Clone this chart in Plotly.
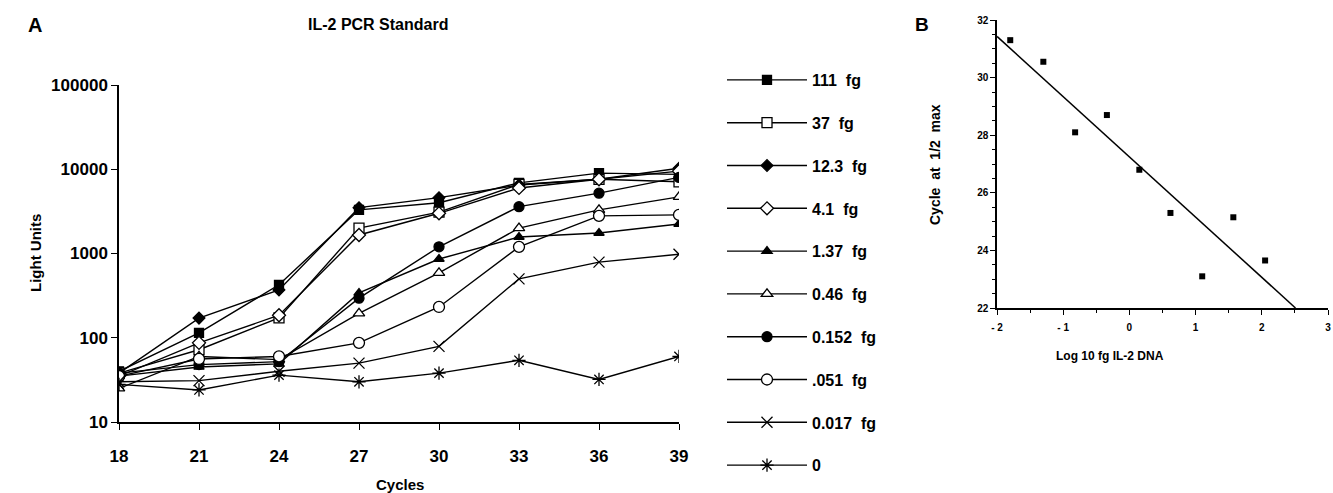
import plotly.graph_objects as go
import numpy as np

# ---------------- Data (panel A) ----------------
cycles = [18, 21, 24, 27, 30, 33, 36, 39]
series_names = ["111\u00a0\u00a0fg", "37\u00a0\u00a0fg", "12.3\u00a0\u00a0fg", "4.1\u00a0\u00a0fg", "1.37\u00a0\u00a0fg",
                "0.46\u00a0\u00a0fg", "0.152\u00a0\u00a0fg", ".051\u00a0\u00a0fg", "0.017\u00a0\u00a0fg", "0"]
fg_111 = [40, 114, 425, 3300, 4000, 6900, 9000, 8700]
fg_37 = [38, 72, 172, 2000, 3100, 6600, 7600, 7100]
fg_12_3 = [38, 171, 370, 3500, 4600, 6500, 7600, 10300]
fg_4_1 = [35, 87, 185, 1660, 3000, 6000, 7600, 9500]
fg_1_37 = [35, 45, 49, 340, 860, 1570, 1750, 2240]
fg_0_46 = [25, 60, 55, 195, 590, 2000, 3300, 4700]
fg_0_152 = [38, 48, 52, 295, 1200, 3600, 5200, 8000]
fg_0_051 = [35, 56, 60, 87, 232, 1200, 2800, 2870]
fg_0_017 = [30, 31, 40, 50, 79, 500, 790, 980]
fg_0 = [28, 24, 36, 30, 38, 54, 32, 60]
y_ticks = [10, 100, 1000, 10000, 100000]
y_ticktext = ["10", "100", "1000", "10000", "100000"]

# ---------------- Data (panel B) ----------------
log_fg = [-1.8, -1.3, -0.82, -0.34, 0.15, 0.62, 1.1, 1.57, 2.05]
cycle_half_max = [31.3, 30.55, 28.1, 28.7, 26.8, 25.3, 23.1, 25.15, 23.65]
b_xticks = [-2, -1, 0, 1, 2, 3]
b_xticktext = ["- 2", "- 1", "0", "1", "2", "3"]
b_yticks = [22, 24, 26, 28, 30, 32]

series_values = [fg_111, fg_37, fg_12_3, fg_4_1, fg_1_37, fg_0_46, fg_0_152, fg_0_051, fg_0_017, fg_0]
symbols = ["square", "square", "diamond", "diamond", "triangle-up", "triangle-up",
           "circle", "circle", "x-thin-open", "asterisk-open"]
fills = ["black", "white", "black", "white", "black", "white", "black", "white", "black", "black"]
sizes = [9, 10, 9, 10, 9, 10, 10, 11, 11, 11]

FONT = "Liberation Sans, Arial, Helvetica, sans-serif"

fig = go.Figure()

for i, (name, vals) in enumerate(zip(series_names, series_values)):
    fig.add_trace(go.Scatter(
        x=cycles, y=vals, name=name, mode="lines+markers",
        line=dict(color="black", width=1.4),
        marker=dict(symbol=symbols[i], size=sizes[i], color=fills[i],
                    line=dict(color="black", width=1.3)),
        legendgroup=f"g{i}", xaxis="x", yaxis="y",
    ))

# Panel B: points + least-squares line
coef = np.polyfit(log_fg, cycle_half_max, 1)
x_start = b_xticks[0]
x_end = (b_yticks[0] - coef[1]) / coef[0]
fig.add_trace(go.Scatter(
    x=[x_start, x_end], y=[np.polyval(coef, x_start), np.polyval(coef, x_end)],
    mode="lines", line=dict(color="black", width=1.5), showlegend=False,
    xaxis="x2", yaxis="y2", cliponaxis=False,
))
fig.add_trace(go.Scatter(
    x=log_fg, y=cycle_half_max, mode="markers",
    marker=dict(symbol="square", size=6, color="black"), showlegend=False,
    xaxis="x2", yaxis="y2",
))

W, H = 1333, 493
axis_common = dict(showgrid=False, zeroline=False, showline=True, linecolor="black",
                   linewidth=1.5, ticks="outside", tickcolor="black", automargin=False)

fig.update_layout(
    width=W, height=H,
    margin=dict(l=0, r=0, t=0, b=0, autoexpand=False),
    paper_bgcolor="white", plot_bgcolor="white",
    font=dict(family=FONT, color="black"),
    xaxis=dict(domain=[119 / W, 679 / W], range=[18, 39], tickvals=cycles,
               ticklen=6, tickwidth=1.2, ticklabelstandoff=12,
               tickfont=dict(size=17, weight="bold"), anchor="y", **axis_common),
    yaxis=dict(domain=[1 - 422 / H, 1 - 85 / H], type="log", range=[1, 5],
               tickvals=y_ticks, ticktext=y_ticktext, ticklen=6, tickwidth=1.2,
               tickfont=dict(size=17, weight="bold"), anchor="x", **axis_common),
    xaxis2=dict(domain=[997 / W, 1328 / W], range=[-2, 3], tickvals=b_xticks,
                ticktext=b_xticktext, ticklen=5, tickwidth=1.2, ticklabelstandoff=4,
                tickfont=dict(size=10, weight="bold"), anchor="y2",
                minor=dict(dtick=0.5, ticks="outside", ticklen=3, tickcolor="black"),
                **axis_common),
    yaxis2=dict(domain=[1 - 308 / H, 1 - 20 / H], range=[22, 32], tickvals=b_yticks,
                ticklen=5, tickwidth=1.2,
                tickfont=dict(size=10, weight="bold"), anchor="x2",
                minor=dict(dtick=0.5, ticks="outside", ticklen=3, tickcolor="black"),
                **axis_common),
    legend=dict(x=722 / W, xanchor="left", y=1 - 63 / H, yanchor="top",
                traceorder="grouped", tracegroupgap=19, itemwidth=80,
                font=dict(size=16, weight="bold"), bgcolor="rgba(0,0,0,0)"),
    showlegend=True,
)

annotations = [
    dict(text="A", x=35 / W, y=1 - 25 / H, font=dict(size=20, weight="bold")),
    dict(text="IL-2 PCR Standard", x=378 / W, y=1 - 24 / H, font=dict(size=16, weight="bold")),
    dict(text="Light Units", x=35 / W, y=1 - 253 / H, textangle=-90, font=dict(size=15, weight="bold")),
    dict(text="Cycles", x=400 / W, y=1 - 484 / H, font=dict(size=15, weight="bold")),
    dict(text="B", x=922 / W, y=1 - 24 / H, font=dict(size=19, weight="bold")),
    dict(text="Cycle\u00a0\u00a0at\u00a0\u00a01/2\u00a0\u00a0max", x=935 / W, y=1 - 165 / H, textangle=-90,
         font=dict(size=14, weight="bold")),
    dict(text="Log 10 fg IL-2 DNA", x=1110 / W, y=1 - 356 / H, font=dict(size=12, weight="bold")),
]
for a in annotations:
    a.update(xref="paper", yref="paper", showarrow=False, xanchor="center", yanchor="middle")
fig.update_layout(annotations=annotations)

fig.write_html("out.html", config={"displayModeBar": False},
               post_script="document.body.style.margin='0px';document.body.style.overflow='hidden';")
